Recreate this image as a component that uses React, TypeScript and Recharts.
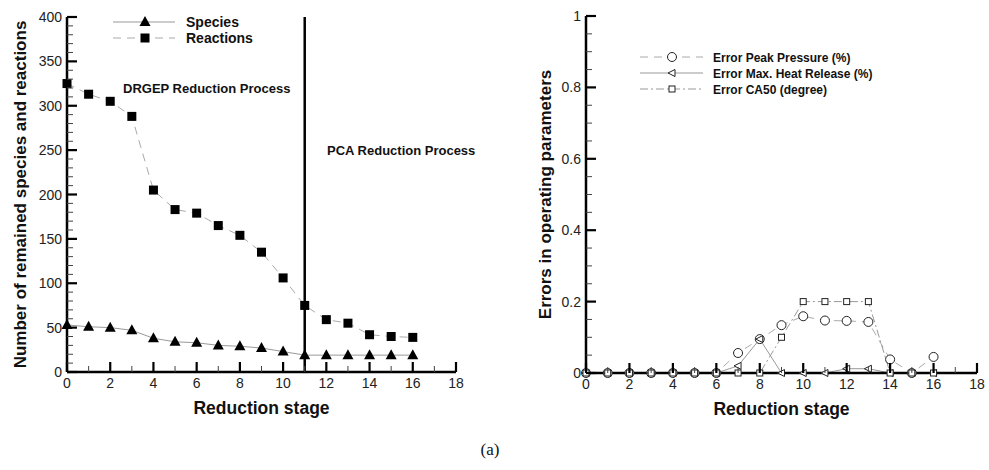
import React from 'react';
import { LineChart, Line, XAxis, YAxis, ReferenceLine, Label } from 'recharts';

const FONT = '"Liberation Sans", Arial, Helvetica, sans-serif';

// reduction stages
const stages = [0, 1, 2, 3, 4, 5, 6, 7, 8, 9, 10, 11, 12, 13, 14, 15, 16];

// left panel
const species = [53, 51, 50, 47, 38, 34, 33, 30, 29, 27, 23, 19, 19, 19, 19, 19, 19];
const reactions = [325, 313, 305, 288, 205, 183, 179, 165, 154, 135, 106, 75, 59, 55, 42, 40, 39];

// right panel
const peakPressure = [0, 0, 0, 0, 0, 0, 0, 0.056, 0.095, 0.134, 0.159, 0.147, 0.146, 0.143, 0.038, 0, 0.045];
const heatRelease = [0, 0, 0, 0, 0, 0, 0, 0.02, 0.095, 0, 0, 0, 0.012, 0.012, 0, 0, 0];
const ca50 = [0, 0, 0, 0, 0, 0, 0, 0, 0, 0.1, 0.2, 0.2, 0.2, 0.2, 0, 0, 0];

// axis ticks
const xTicks = [0, 1, 2, 3, 4, 5, 6, 7, 8, 9, 10, 11, 12, 13, 14, 15, 16, 17, 18];
const leftYTicks = Array.from({ length: 41 }, (_, i) => i * 10);
const rightYTicks = Array.from({ length: 21 }, (_, i) => Math.round(i * 5) / 100);

const leftData = stages.map((s, i) => ({ stage: s, species: species[i], reactions: reactions[i] }));
const rightData = stages.map((s, i) => ({
  stage: s,
  peak: peakPressure[i],
  heat: heatRelease[i],
  ca50: ca50[i],
}));

const majorTick = { stroke: '#000', strokeWidth: 2.2 };
const minorTick = { stroke: '#444', strokeWidth: 1 };

// inward tick marks (Tecplot style)
const XTick = (props: any) => {
  const { x, y, payload } = props;
  const v = payload.value;
  const major = v % 2 === 0;
  return (
    <g>
      <path d={`M${x},${y}V${y - (major ? 10 : 6)}`} style={major ? majorTick : minorTick} />
      {major && (
        <text x={x} y={y + 16} textAnchor="middle" fontSize={14} style={{ fill: '#222', stroke: 'none' }} fontFamily={FONT}>
          {v}
        </text>
      )}
    </g>
  );
};

const makeYTick = (isMajor: (v: number) => boolean, fmt: (v: number) => string) => (props: any) => {
  const { x, y, payload } = props;
  const v = payload.value;
  const major = isMajor(v);
  return (
    <g>
      <path d={`M${x},${y}H${x + (major ? 10 : 6)}`} style={major ? majorTick : minorTick} />
      {major && (
        <text x={x - 5} y={y + 5} textAnchor="end" fontSize={14} style={{ fill: '#222', stroke: 'none' }} fontFamily={FONT}>
          {fmt(v)}
        </text>
      )}
    </g>
  );
};

const LeftYTick = makeYTick((v) => v % 50 === 0, (v) => String(v));
const RightYTick = makeYTick(
  (v) => Math.round(v * 100) % 20 === 0,
  (v) => (v === 0 ? '0' : v === 1 ? '1' : v.toFixed(1))
);

const triDot = (p: any) => (
  <path key={`t${p.index}`} d={`M${p.cx},${p.cy - 6}L${p.cx + 5.5},${p.cy + 4}L${p.cx - 5.5},${p.cy + 4}Z`} style={{ fill: '#000', stroke: 'none' }} />
);
const sqDot = (p: any) => (
  <rect key={`s${p.index}`} x={p.cx - 4.5} y={p.cy - 4.5} width={9} height={9} style={{ fill: '#000', stroke: 'none' }} />
);
const openStyle = { fill: '#fff', stroke: '#222', strokeWidth: 1 };
const circDot = (p: any) => <circle key={`c${p.index}`} cx={p.cx} cy={p.cy} r={4.5} style={openStyle} />;
const openSqDot = (p: any) => (
  <rect key={`q${p.index}`} x={p.cx - 3} y={p.cy - 3} width={6} height={6} style={openStyle} />
);
const leftTriDot = (p: any) => (
  <path key={`l${p.index}`} d={`M${p.cx - 4},${p.cy}L${p.cx + 3},${p.cy - 3.5}L${p.cx + 3},${p.cy + 3.5}Z`} style={openStyle} />
);

const xTitle = (props: any) => {
  const vb = props.viewBox;
  return (
    <text x={vb.x + vb.width / 2} y={vb.y + 42} textAnchor="middle" fontSize={17.5} fontWeight="bold" fill="#111" fontFamily={FONT}>
      Reduction stage
    </text>
  );
};

const yTitle = (text: string, cx: number) => (props: any) => {
  const vb = props.viewBox;
  const cy = vb.y + vb.height / 2;
  return (
    <text x={cx} y={cy} transform={`rotate(-90 ${cx} ${cy})`} textAnchor="middle" dominantBaseline="central" fontSize={17} fontWeight="bold" fill="#111" fontFamily={FONT}>
      {text}
    </text>
  );
};

const axisLine = { stroke: '#000', strokeWidth: 2.5 };

const legendText = { fontFamily: FONT, fontWeight: 'bold' as const, fill: '#111' };

export default function App() {
  return (
    <div style={{ position: 'absolute', left: 0, top: 0, width: 989, height: 470, background: '#fff', fontFamily: FONT }}>
      <div style={{ position: 'absolute', left: 0, top: 0 }}>
        <LineChart width={470} height={430} data={leftData} margin={{ top: 17, right: 14, bottom: 18, left: 0 }}>
          <XAxis dataKey="stage" type="number" domain={[0, 18]} ticks={xTicks} interval={0} tick={XTick} tickLine={false} tickSize={0} tickMargin={0} axisLine={axisLine} height={40}>
            <Label content={xTitle} />
          </XAxis>
          <YAxis type="number" domain={[0, 400]} ticks={leftYTicks} interval={0} tick={LeftYTick} tickLine={false} tickSize={0} tickMargin={0} axisLine={axisLine} width={67}>
            <Label content={yTitle('Number of remained species and reactions', 20)} />
          </YAxis>
          <ReferenceLine x={11} stroke="#000" strokeWidth={2.5} />
          <Line dataKey="species" stroke="#999" strokeWidth={1} dot={triDot} isAnimationActive={false} />
          <Line dataKey="reactions" stroke="#aaa" strokeWidth={1} strokeDasharray="8 6" dot={sqDot} isAnimationActive={false} />
        </LineChart>
      </div>

      <div style={{ position: 'absolute', left: 500, top: 0 }}>
        <LineChart width={489} height={430} data={rightData} margin={{ top: 16, right: 12, bottom: 17, left: 0 }}>
          <XAxis dataKey="stage" type="number" domain={[0, 18]} ticks={xTicks} interval={0} tick={XTick} tickLine={false} tickSize={0} tickMargin={0} axisLine={axisLine} height={40}>
            <Label content={xTitle} />
          </XAxis>
          <YAxis type="number" domain={[0, 1]} ticks={rightYTicks} interval={0} tick={RightYTick} tickLine={false} tickSize={0} tickMargin={0} axisLine={axisLine} width={86}>
            <Label content={yTitle('Errors in operating parameters', 45)} />
          </YAxis>
          <Line dataKey="peak" stroke="#aaa" strokeWidth={1} strokeDasharray="8 6" dot={circDot} isAnimationActive={false} />
          <Line dataKey="heat" stroke="#999" strokeWidth={1} dot={leftTriDot} isAnimationActive={false} />
          <Line dataKey="ca50" stroke="#999" strokeWidth={1} strokeDasharray="8 3 2 3" dot={openSqDot} isAnimationActive={false} />
        </LineChart>
      </div>

      {/* left legend */}
      <svg style={{ position: 'absolute', left: 105, top: 10 }} width={160} height={40}>
        <line x1={8} y1={12} x2={70} y2={12} stroke="#999" strokeWidth={1} />
        <path d="M40,6L45.5,16L34.5,16Z" fill="#000" />
        <text x={81} y={17} fontSize={14} {...legendText}>Species</text>
        <line x1={8} y1={28} x2={70} y2={28} stroke="#aaa" strokeWidth={1} strokeDasharray="8 6" />
        <rect x={35.5} y={23.5} width={9} height={9} fill="#000" />
        <text x={81} y={33} fontSize={14} {...legendText}>Reactions</text>
      </svg>

      {/* right legend */}
      <svg style={{ position: 'absolute', left: 635, top: 45 }} width={240} height={55}>
        <line x1={5} y1={12} x2={68} y2={12} stroke="#aaa" strokeWidth={1} strokeDasharray="8 6" />
        <circle cx={37} cy={12} r={4.5} fill="#fff" stroke="#222" />
        <text x={78} y={16.5} fontSize={12} {...legendText}>Error Peak Pressure (%)</text>
        <line x1={5} y1={28} x2={68} y2={28} stroke="#999" strokeWidth={1} />
        <path d="M33,28L40,24.5L40,31.5Z" fill="#fff" stroke="#222" />
        <text x={78} y={32.5} fontSize={12} {...legendText}>Error Max. Heat Release (%)</text>
        <line x1={5} y1={44} x2={68} y2={44} stroke="#999" strokeWidth={1} strokeDasharray="8 3 2 3" />
        <rect x={34} y={41} width={6} height={6} fill="#fff" stroke="#222" />
        <text x={78} y={48.5} fontSize={12} {...legendText}>Error CA50 (degree)</text>
      </svg>

      <div style={{ position: 'absolute', left: 123, top: 81, fontSize: 13, fontWeight: 'bold', color: '#111', whiteSpace: 'nowrap' }}>
        DRGEP Reduction Process
      </div>
      <div style={{ position: 'absolute', left: 327, top: 143, fontSize: 13, fontWeight: 'bold', color: '#111', whiteSpace: 'nowrap' }}>
        PCA Reduction Process
      </div>
      <div style={{ position: 'absolute', left: 0, width: 980, top: 440, textAlign: 'center', fontFamily: '"Liberation Serif", "Times New Roman", serif', fontSize: 17, color: '#111' }}>
        (a)
      </div>
    </div>
  );
}
